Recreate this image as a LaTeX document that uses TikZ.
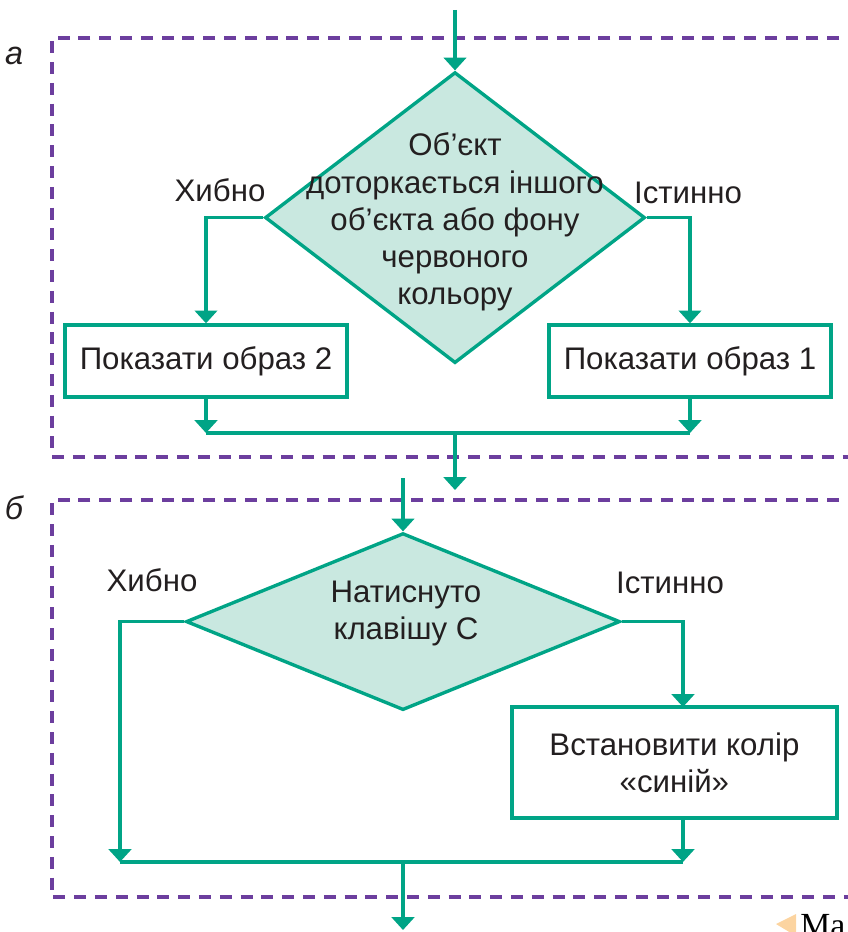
\documentclass[tikz,border=0pt]{standalone}
\usepackage{fontspec}
\setmainfont{Liberation Sans}
\newfontfamily\serifcyr{Liberation Serif}
\usetikzlibrary{arrows.meta,shapes.geometric,calc}
\definecolor{flowteal}{RGB}{0,164,134}
\definecolor{flowfill}{RGB}{201,232,224}
\definecolor{framepurple}{RGB}{108,62,158}
\definecolor{textdark}{RGB}{35,31,32}
\definecolor{tabsand}{RGB}{252,212,160}

\begin{document}
\begin{tikzpicture}[
  flow/.style={draw=flowteal,line width=2.4pt,-{Triangle[width=5.6mm,length=3.2mm]}},
  wire/.style={draw=flowteal,line width=2.4pt},
  groupframe/.style={draw=framepurple,line width=2.2pt,dash pattern=on 3mm off 2.2mm},
  decision/.style={diamond,draw=flowteal,fill=flowfill,line width=2.4pt,inner sep=0pt},
  actbox/.style={rectangle,draw=flowteal,fill=white,line width=2.4pt,inner sep=0pt},
  txt/.style={text=textdark,font=\fontsize{22.2pt}{26.4pt}\selectfont,align=center},
  tag/.style={text=textdark,font=\fontsize{23pt}{26pt}\selectfont\itshape}
]
\useasboundingbox (0,0) rectangle (21.2,-23.3);
% ---------- рамки ----------
\draw[groupframe] (21.5,-0.95) -- (1.3,-0.95) -- (1.3,-11.425) -- (21.5,-11.425);
\draw[groupframe] (21.5,-12.5) -- (1.3,-12.5) -- (1.3,-22.425) -- (21.5,-22.425);
\node[tag] (taga) at (0.35,-1.4) {а};
\node[tag] (tagb) at (0.35,-12.7) {б};
% ---------- а ----------
\node[decision,minimum width=9.5cm,minimum height=7.275cm] (d1) at (11.375,-5.44) {};
\node[txt] (d1t) at (11.375,-5.55) {Об’єкт\\доторкається іншого\\об’єкта або фону\\червоного\\кольору};
\node[actbox,txt,minimum width=7.05cm,minimum height=1.8cm] (img2) at (5.15,-9.025) {Показати образ 2};
\node[actbox,txt,minimum width=7.05cm,minimum height=1.8cm] (img1) at (17.25,-9.025) {Показати образ 1};
\node[txt] (no1) at (5.5,-4.75) {Хибно};
\node[txt] (yes1) at (17.2,-4.825) {Істинно};
\coordinate (start1) at (11.375,-0.25);
\coordinate (join1) at (11.375,-10.825);
\coordinate (end1) at (11.375,-12.25);
\draw[flow] (start1) -- (d1.north);
\draw[flow] (d1.west) -| (img2.north);
\draw[flow] (d1.east) -| (img1.north);
\draw[flow] (img2.south) -- (img2.south |- join1);
\draw[flow] (img1.south) -- (img1.south |- join1);
\draw[wire] (img2.south |- join1) -- (img1.south |- join1);
\draw[flow] (join1) -- (end1);
% ---------- б ----------
\coordinate (start2) at (10.075,-11.95);
\node[decision,minimum width=10.85cm,minimum height=4.425cm] (d2) at (10.075,-15.54) {};
\node[txt] (d2t) at (10.15,-15.33) {Натиснуто\\клавішу С};
\node[txt] (no2) at (3.8,-14.5) {Хибно};
\node[txt] (yes2) at (16.75,-14.575) {Істинно};
\node[actbox,txt,minimum width=8.125cm,minimum height=2.775cm] (blue) at (16.86,-19.06) {Встановити колір\\«синій»};
\coordinate (blueup) at (17.075,-17.675);
\coordinate (join2) at (10.075,-21.55);
\coordinate (left2) at (3.0,-21.55);
\coordinate (end2) at (10.075,-23.25);
\draw[flow] (start2) -- (d2.north);
\draw[flow] (d2.west) -| (left2);
\draw[flow] (d2.east) -| (blueup);
\draw[flow] (blueup |- blue.south) -- (blueup |- join2);
\draw[wire] (left2) -- (blueup |- join2);
\draw[flow] (join2) -- (end2);
% ---------- край сторінки ----------
\fill[tabsand] (19.4,-23.1) -- (19.9,-22.85) -- (19.9,-23.4) -- cycle;
\node[anchor=base west,inner sep=0pt,font=\serifcyr\fontsize{24pt}{28pt}\selectfont] (pagecue) at (20.0,-23.42) {Ма};
\end{tikzpicture}
\end{document}
